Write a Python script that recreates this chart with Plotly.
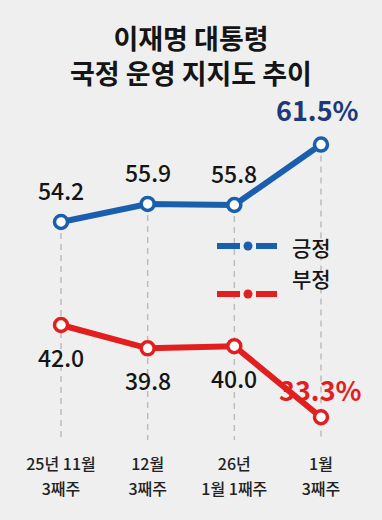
import plotly.graph_objects as go

# ---- data ----
cat_line1 = ["25년 11월", "12월", "26년", "1월"]
cat_line2 = ["3째주", "3째주", "1월 1째주", "3째주"]
positive = [54.2, 55.9, 55.8, 61.5]   # 긍정
negative = [42.0, 39.8, 40.0, 33.3]   # 부정
series_names = ["긍정", "부정"]
title_text = "이재명 대통령<br>국정 운영 지지도 추이"

# ---- style ----
BG = "#efefef"
BLUE = "#1a5fad"
RED = "#e21f1f"
NAVY = "#1c3a7a"
TXT = "#151515"
GRID = "#bdbdbd"
FONT = "Noto Sans CJK KR"

W, H = 382, 520
MB = 80
PLOT_H = H - MB
SCALE = 10.6  # px per percentage point

xs = list(range(len(cat_line1)))
blue_rng = [75.14 - PLOT_H / SCALE, 75.14]
red_rng = [72.66 - PLOT_H / SCALE, 72.66]

fig = go.Figure()

# dashed vertical guides from the positive marker down to the bottom
for i, v in zip(xs, positive):
    fig.add_trace(go.Scatter(x=[i, i], y=[v, blue_rng[0]], mode="lines",
                             line=dict(color=GRID, width=1.5, dash="6px,5px"),
                             hoverinfo="skip", showlegend=False, yaxis="y"))

fig.add_trace(go.Scatter(x=xs, y=positive, mode="lines+markers", name=series_names[0],
                         line=dict(color=BLUE, width=6),
                         marker=dict(size=13, color="white", line=dict(color=BLUE, width=3.5)),
                         showlegend=False, yaxis="y"))
fig.add_trace(go.Scatter(x=xs, y=negative, mode="lines+markers", name=series_names[1],
                         line=dict(color=RED, width=6),
                         marker=dict(size=13, color="white", line=dict(color=RED, width=3.5)),
                         showlegend=False, yaxis="y2"))
# invisible trace to activate the second x axis (second tick-label line)
fig.add_trace(go.Scatter(x=xs, y=positive, mode="markers", marker=dict(opacity=0),
                         hoverinfo="skip", showlegend=False, xaxis="x2", yaxis="y"))

annotations = []
last = len(xs) - 1
for i, v in zip(xs, positive):
    if i == last:
        annotations.append(dict(x=i, y=v, xref="x", yref="y", text=f"{v:.1f}%", showarrow=False,
                                yshift=35, xshift=-3,
                                font=dict(family=FONT, size=27, color=NAVY, weight="bold")))
    else:
        annotations.append(dict(x=i, y=v, xref="x", yref="y", text=f"{v:.1f}", showarrow=False,
                                yshift=32, font=dict(family=FONT, size=23, color=TXT, weight=500)))
for i, v in zip(xs, negative):
    if i == last:
        annotations.append(dict(x=i, y=v, xref="x", yref="y2", text=f"{v:.1f}%", showarrow=False,
                                yshift=28,
                                font=dict(family=FONT, size=27, color=RED, weight="bold")))
    else:
        annotations.append(dict(x=i, y=v, xref="x", yref="y2", text=f"{v:.1f}", showarrow=False,
                                yshift=-32, font=dict(family=FONT, size=23, color=TXT, weight=500)))

# manual legend
def px(x):
    return x / W

def py(y):
    return 1 - y / PLOT_H

shapes = []
for name, col, ly in [(series_names[0], BLUE, 246), (series_names[1], RED, 294)]:
    shapes.append(dict(type="line", xref="paper", yref="paper", x0=px(217), x1=px(240), y0=py(ly), y1=py(ly),
                       line=dict(color=col, width=6)))
    shapes.append(dict(type="line", xref="paper", yref="paper", x0=px(256), x1=px(277), y0=py(ly), y1=py(ly),
                       line=dict(color=col, width=6)))
    shapes.append(dict(type="circle", xref="paper", yref="paper", x0=px(243.5), x1=px(252.5),
                       y0=py(ly + 4.5), y1=py(ly - 4.5), fillcolor=col, line=dict(width=0)))
    annotations.append(dict(x=px(290), y=py(ly + 1), xref="paper", yref="paper", xanchor="left",
                            text=name, showarrow=False,
                            font=dict(family=FONT, size=21, color=TXT, weight=500)))

tickfont = dict(family=FONT, size=16, color="#222", weight=500)
fig.update_layout(
    width=W, height=H,
    margin=dict(l=0, r=0, t=0, b=MB),
    paper_bgcolor=BG, plot_bgcolor=BG,
    title=dict(text=title_text, x=0.5, xanchor="center", y=1 - 49 / H, yanchor="middle",
               yref="container",
               font=dict(family=FONT, size=27, color=TXT, weight="bold")),
    xaxis=dict(range=[-0.704, 3.704], tickvals=xs, ticktext=cat_line1,
               showgrid=False, zeroline=False, showline=False, ticks="",
               ticklabelstandoff=13, tickfont=tickfont),
    xaxis2=dict(range=[-0.704, 3.704], tickvals=xs, ticktext=cat_line2, overlaying="x", side="bottom",
                showgrid=False, zeroline=False, showline=False, ticks="",
                ticklabelstandoff=38, tickfont=tickfont),
    yaxis=dict(range=blue_rng, visible=False, fixedrange=True),
    yaxis2=dict(range=red_rng, visible=False, overlaying="y"),
    showlegend=False,
    annotations=annotations,
    shapes=shapes,
)

fig.write_html("out.html", config={"displayModeBar": False},
               post_script="document.body.style.margin='0';document.body.style.background='%s';" % BG)
